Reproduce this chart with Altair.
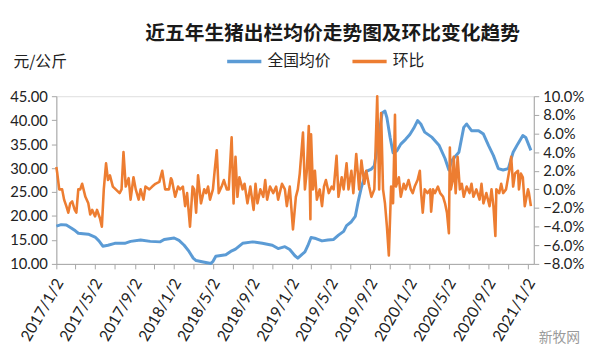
import altair as alt
import pandas as pd

TITLE = "近五年生猪出栏均价走势图及环比变化趋势"
SERIES = ["全国均价", "环比"]
COLORS = ["#5b9bd5", "#ed7d31"]

price_dates = [
    "2017-01-02", "2017-01-17", "2017-02-02", "2017-02-17", "2017-03-02", "2017-03-11",
    "2017-03-26", "2017-04-11", "2017-05-02", "2017-05-14", "2017-05-26", "2017-06-11",
    "2017-07-02", "2017-08-02", "2017-08-20", "2017-09-20", "2017-10-20", "2017-11-20",
    "2017-12-02", "2018-01-02", "2018-01-17", "2018-02-02", "2018-02-17", "2018-03-02",
    "2018-03-11", "2018-04-02", "2018-04-26", "2018-05-02", "2018-05-11", "2018-06-11",
    "2018-06-26", "2018-07-11", "2018-08-02", "2018-09-02", "2018-10-02", "2018-11-02",
    "2018-11-20", "2018-12-11", "2018-12-26", "2019-01-11", "2019-01-20", "2019-02-02",
    "2019-02-11", "2019-02-20", "2019-03-02", "2019-03-17", "2019-04-05", "2019-04-23",
    "2019-05-11", "2019-05-26", "2019-06-11", "2019-06-20", "2019-07-05", "2019-07-17",
    "2019-07-26", "2019-08-05", "2019-08-20", "2019-09-05", "2019-09-14", "2019-09-26",
    "2019-10-08", "2019-10-17", "2019-10-23", "2019-11-02", "2019-11-11", "2019-11-23",
    "2019-12-05", "2019-12-20", "2020-01-02", "2020-01-14", "2020-01-26", "2020-02-05",
    "2020-02-17", "2020-03-11", "2020-04-02", "2020-04-20", "2020-05-02", "2020-05-11",
    "2020-06-02", "2020-06-17", "2020-06-26", "2020-07-11", "2020-08-02", "2020-08-17",
    "2020-09-02", "2020-09-17", "2020-10-02", "2020-10-17", "2020-11-02", "2020-11-17",
    "2020-12-02", "2020-12-17", "2020-12-26", "2021-01-11",
]
price_values = [
    17.9, 18.2, 18.1, 17.5, 16.9, 16.4,
    16.3, 16.2, 15.6, 14.8, 13.7, 13.9,
    14.3, 14.3, 14.7, 15.0, 14.7, 14.6,
    15.1, 15.4, 14.9, 13.9, 12.6, 11.2,
    10.7, 10.4, 10.1, 10.5, 11.6, 11.9,
    12.6, 13.1, 14.3, 14.6, 14.3, 13.9,
    13.2, 13.6, 13.0, 11.7, 11.2, 12.0,
    12.5, 13.8, 15.5, 15.3, 14.8, 15.0,
    15.1, 16.0, 16.8, 18.0, 18.8, 19.9,
    23.0, 26.0, 29.3, 29.8, 30.5, 35.7,
    41.5, 41.9, 40.5, 36.4, 33.2, 33.6,
    35.0, 36.0, 37.0, 38.3, 39.9, 39.2,
    37.5, 36.4, 34.7, 32.0, 29.6, 31.6,
    33.3, 38.5, 39.2, 37.8, 37.8, 37.1,
    34.7, 32.6, 29.9, 29.6, 29.9, 33.3,
    35.1, 36.8, 36.4, 33.7,
]

pct_dates = [
    "2017-01-02", "2017-01-05", "2017-01-11", "2017-01-20", "2017-01-26", "2017-02-02",
    "2017-02-08", "2017-02-14", "2017-02-20", "2017-02-28", "2017-03-05", "2017-03-11",
    "2017-03-17", "2017-03-23", "2017-04-02", "2017-04-11", "2017-04-17", "2017-04-23",
    "2017-05-02", "2017-05-08", "2017-05-17", "2017-05-23", "2017-05-29", "2017-06-05",
    "2017-06-11", "2017-06-17", "2017-06-26", "2017-07-05", "2017-07-17", "2017-07-23",
    "2017-07-29", "2017-08-05", "2017-08-14", "2017-08-20", "2017-08-29", "2017-09-05",
    "2017-09-14", "2017-09-20", "2017-09-29", "2017-10-05", "2017-10-17", "2017-10-26",
    "2017-11-05", "2017-11-17", "2017-11-26", "2017-12-05", "2017-12-17", "2017-12-23",
    "2017-12-26", "2018-01-05", "2018-01-14", "2018-01-20", "2018-01-29", "2018-02-05",
    "2018-02-11", "2018-02-20", "2018-02-28", "2018-03-05", "2018-03-11", "2018-03-17",
    "2018-03-26", "2018-04-05", "2018-04-11", "2018-04-17", "2018-04-23", "2018-05-02",
    "2018-05-08", "2018-05-14", "2018-05-20", "2018-05-29", "2018-06-05", "2018-06-14",
    "2018-06-20", "2018-06-29", "2018-07-05", "2018-07-11", "2018-07-17", "2018-07-23",
    "2018-08-02", "2018-08-08", "2018-08-17", "2018-08-26", "2018-09-05", "2018-09-11",
    "2018-09-17", "2018-09-26", "2018-10-05", "2018-10-11", "2018-10-17", "2018-10-26",
    "2018-11-05", "2018-11-14", "2018-11-20", "2018-12-02", "2018-12-11", "2018-12-17",
    "2018-12-26", "2019-01-05", "2019-01-14", "2019-01-20", "2019-01-26", "2019-02-05",
    "2019-02-11", "2019-02-17", "2019-02-23", "2019-02-28", "2019-03-02", "2019-03-08",
    "2019-03-14", "2019-03-20", "2019-03-29", "2019-04-05", "2019-04-11", "2019-04-17",
    "2019-04-26", "2019-05-05", "2019-05-11", "2019-05-20", "2019-05-26", "2019-06-05",
    "2019-06-11", "2019-06-20", "2019-06-26", "2019-07-05", "2019-07-11", "2019-07-20",
    "2019-07-29", "2019-08-05", "2019-08-14", "2019-08-20", "2019-08-29", "2019-09-05",
    "2019-09-14", "2019-09-23", "2019-09-29", "2019-10-05", "2019-10-11", "2019-10-17",
    "2019-10-23", "2019-10-29", "2019-11-05", "2019-11-11", "2019-11-17", "2019-11-20",
    "2019-11-29", "2019-12-05", "2019-12-14", "2019-12-20", "2019-12-29", "2020-01-05",
    "2020-01-11", "2020-01-17", "2020-01-26", "2020-02-02", "2020-02-05", "2020-02-11",
    "2020-02-17", "2020-02-26", "2020-03-05", "2020-03-08", "2020-03-14", "2020-03-20",
    "2020-03-29", "2020-04-05", "2020-04-14", "2020-04-20", "2020-04-26", "2020-05-02",
    "2020-05-05", "2020-05-08", "2020-05-14", "2020-05-17", "2020-05-23", "2020-05-29",
    "2020-06-05", "2020-06-11", "2020-06-17", "2020-06-26", "2020-07-05", "2020-07-11",
    "2020-07-17", "2020-07-26", "2020-08-05", "2020-08-11", "2020-08-17", "2020-08-26",
    "2020-09-05", "2020-09-11", "2020-09-17", "2020-09-23", "2020-09-26", "2020-10-05",
    "2020-10-11", "2020-10-17", "2020-10-26", "2020-11-05", "2020-11-11", "2020-11-17",
    "2020-11-23", "2020-12-02", "2020-12-05", "2020-12-11", "2020-12-17", "2020-12-23",
    "2021-01-02", "2021-01-05", "2021-01-11",
]
pct_values = [
    2.4, 1.7, 0.0, 0.0, -1.1, -1.8,
    -2.5, -1.5, -1.3, -2.2, -2.5, 0.0,
    0.0, 0.6, -0.8, -1.5, -2.7, -2.2,
    -2.9, -2.2, -3.1, -4.0, 0.0, 2.8,
    1.0, 1.5, 0.3, 0.0, -0.4, 0.0,
    4.0, 0.3, 1.2, -1.1, 1.3, 0.0,
    -1.1, 0.0, -1.1, 0.3, 0.0, 0.3,
    0.6, 0.8, 2.0, 0.0, 0.0, 1.2,
    1.0, -0.8, 0.3, 0.0, 0.3, -1.8,
    -0.4, -4.0, 0.3, 0.0, -2.5, 1.5,
    -1.5, 0.0, -0.4, 0.3, -1.1, 0.0,
    2.2, 4.2, -0.4, 0.3, 1.0, 0.0,
    0.0, 5.6, -1.5, 3.5, -0.8, 1.3,
    0.0, 0.6, -1.5, 0.3, -2.2, 0.6,
    -1.5, 0.0, -0.8, 1.0, -1.1, 0.3,
    -0.4, 0.3, -1.1, 0.6, 0.0, -1.8,
    0.3, -4.3, -0.8, 0.0, 1.7, 6.1,
    0.0, 2.0, 6.8, -3.2, 5.9, 0.0,
    2.0, -1.1, 0.0, -1.8, 0.3, 1.0,
    -0.4, 0.3, 0.0, 3.6, -0.8, 1.3,
    0.0, 2.8, 0.0, 2.0, -0.4, 3.8,
    0.0, 3.1, 0.6, 2.0, 0.3, -0.8,
    0.0, 10.0, 0.0, 8.2, 0.0, -1.5,
    -4.0, -7.1, 0.3, -1.5, 8.0, 0.3,
    1.3, -0.8, 0.6, 0.0, 1.0, 0.0,
    -0.4, 0.3, 1.0, 2.0, 0.0, -2.5,
    0.0, -0.4, 0.0, -2.4, 0.0, -0.4,
    0.3, -0.4, -0.8, -1.5, -2.5, -4.7,
    4.5, 0.0, 1.0, 3.5, -0.4, 3.5,
    0.0, 0.6, -0.8, 0.3, -0.4, 0.6,
    -0.8, 0.0, -1.1, 0.6, -1.5, -0.4,
    -1.8, 0.0, -1.8, -5.0, 0.0, -0.4,
    0.6, -0.4, 0.0, 2.0, 3.5, 0.3,
    1.7, 2.0, 0.0, 1.7, 1.3, -1.8,
    0.0, -0.4, -1.8,
]

x_tick_dates = [
    "2017-01-02", "2017-03-02", "2017-05-02", "2017-07-02", "2017-09-02", "2017-11-02",
    "2018-01-02", "2018-03-02", "2018-05-02", "2018-07-02", "2018-09-02", "2018-11-02",
    "2019-01-02", "2019-03-02", "2019-05-02", "2019-07-02", "2019-09-02", "2019-11-02",
    "2020-01-02", "2020-03-02", "2020-05-02", "2020-07-02", "2020-09-02", "2020-11-02",
    "2021-01-02",
]
left_ticks = [10, 15, 20, 25, 30, 35, 40, 45]
right_ticks = [-8, -6, -4, -2, 0, 2, 4, 6, 8, 10]
X_START = "2017-01-02"
X_END = "2021-01-20"


def dt(s):
    y, m, d = (int(p) for p in s.split("-"))
    return alt.DateTime(year=y, month=m, date=d)


price_df = pd.DataFrame({"date": pd.to_datetime(price_dates), "value": price_values})
price_df["series"] = SERIES[0]
pct_df = pd.DataFrame({"date": pd.to_datetime(pct_dates), "value": pct_values})
pct_df["series"] = SERIES[1]

LABEL_FONT = "Lato"
TEXT_COLOR = "#222222"
AXIS_COLOR = "#a6a6a6"

x_enc = alt.X(
    "date:T",
    scale=alt.Scale(domain=[dt(X_START), dt(X_END)]),
    axis=alt.Axis(
        title=None,
        values=[dt(s) for s in x_tick_dates],
        labelExpr="month(datum.value) % 4 == 0 ? timeFormat(datum.value, '%Y/%-m/%-d') : ''",
        labelAngle=300,
        labelAlign="right",
        labelBaseline="middle",
        labelOverlap=False,
        labelFlush=False,
        labelPadding=11,
        labelOffset=3,
        labelFont=LABEL_FONT,
        labelFontSize=16,
        labelColor=TEXT_COLOR,
        grid=False,
        tickSize=5,
        tickColor=AXIS_COLOR,
        domainColor=AXIS_COLOR,
    ),
)

color_enc = alt.Color(
    "series:N",
    scale=alt.Scale(domain=SERIES, range=COLORS),
    legend=alt.Legend(
        title=None,
        orient="none",
        legendX=171,
        legendY=-55,
        direction="horizontal",
        symbolType="stroke",
        symbolSize=1200,
        symbolStrokeWidth=3.5,
        labelFont="Noto Sans CJK SC",
        labelFontSize=16,
        labelColor=TEXT_COLOR,
        labelOffset=4,
        columnPadding=14,
    ),
)

price_line = alt.Chart(price_df).mark_line(strokeWidth=3, strokeJoin="round").encode(
    x=x_enc,
    y=alt.Y(
        "value:Q",
        scale=alt.Scale(domain=[10, 45], nice=False, zero=False),
        axis=alt.Axis(
            orient="left",
            values=left_ticks,
            format=".2f",
            title="元/公斤",
            titleAngle=0,
            titleX=-44,
            titleY=-35,
            titleAlign="left",
            titleBaseline="middle",
            titleFont="Noto Sans CJK SC",
            titleFontSize=16,
            titleFontWeight="normal",
            titleColor=TEXT_COLOR,
            labelFont=LABEL_FONT,
            labelFontSize=15,
            labelColor=TEXT_COLOR,
            labelPadding=4,
            grid=False,
            tickSize=5,
            tickColor=AXIS_COLOR,
            domainColor=AXIS_COLOR,
        ),
    ),
    color=color_enc,
)

pct_line = alt.Chart(pct_df).mark_line(strokeWidth=2.6, strokeJoin="round").encode(
    x=x_enc,
    y=alt.Y(
        "value:Q",
        scale=alt.Scale(domain=[-8, 10], nice=False, zero=False),
        axis=alt.Axis(
            orient="right",
            values=right_ticks,
            labelExpr="format(datum.value, '.1f') + '%'",
            title=None,
            labelFont=LABEL_FONT,
            labelFontSize=15,
            labelColor=TEXT_COLOR,
            labelPadding=4,
            grid=False,
            tickSize=5,
            tickColor=AXIS_COLOR,
            domainColor=AXIS_COLOR,
        ),
    ),
    color=color_enc,
)

mark_df = pd.DataFrame({"t": ["新牧网"]})
watermark = alt.Chart(mark_df).mark_text(
    font="Noto Sans CJK SC", fontSize=14, color="#9a9a9a", align="left", baseline="middle"
).encode(text="t:N", x=alt.value(489), y=alt.value(245))

chart = (
    alt.layer(price_line, pct_line, watermark)
    .resolve_scale(y="independent")
    .properties(
        width=484,
        height=170,
        padding={"left": 49, "top": 87, "right": 59, "bottom": 95},
        autosize=alt.AutoSizeParams(type="none"),
        title=alt.TitleParams(
            TITLE,
            font="Noto Sans CJK SC",
            fontSize=20,
            fontWeight="bold",
            color="#1a1a1a",
            anchor="middle",
            frame="group",
            baseline="bottom",
            dx=38,
            dy=30,
            offset=8,
        ),
    )
    .configure_view(stroke=None)
    .configure(background="white")
)

chart.save("out.html", embed_options={"renderer": "svg", "actions": False})
